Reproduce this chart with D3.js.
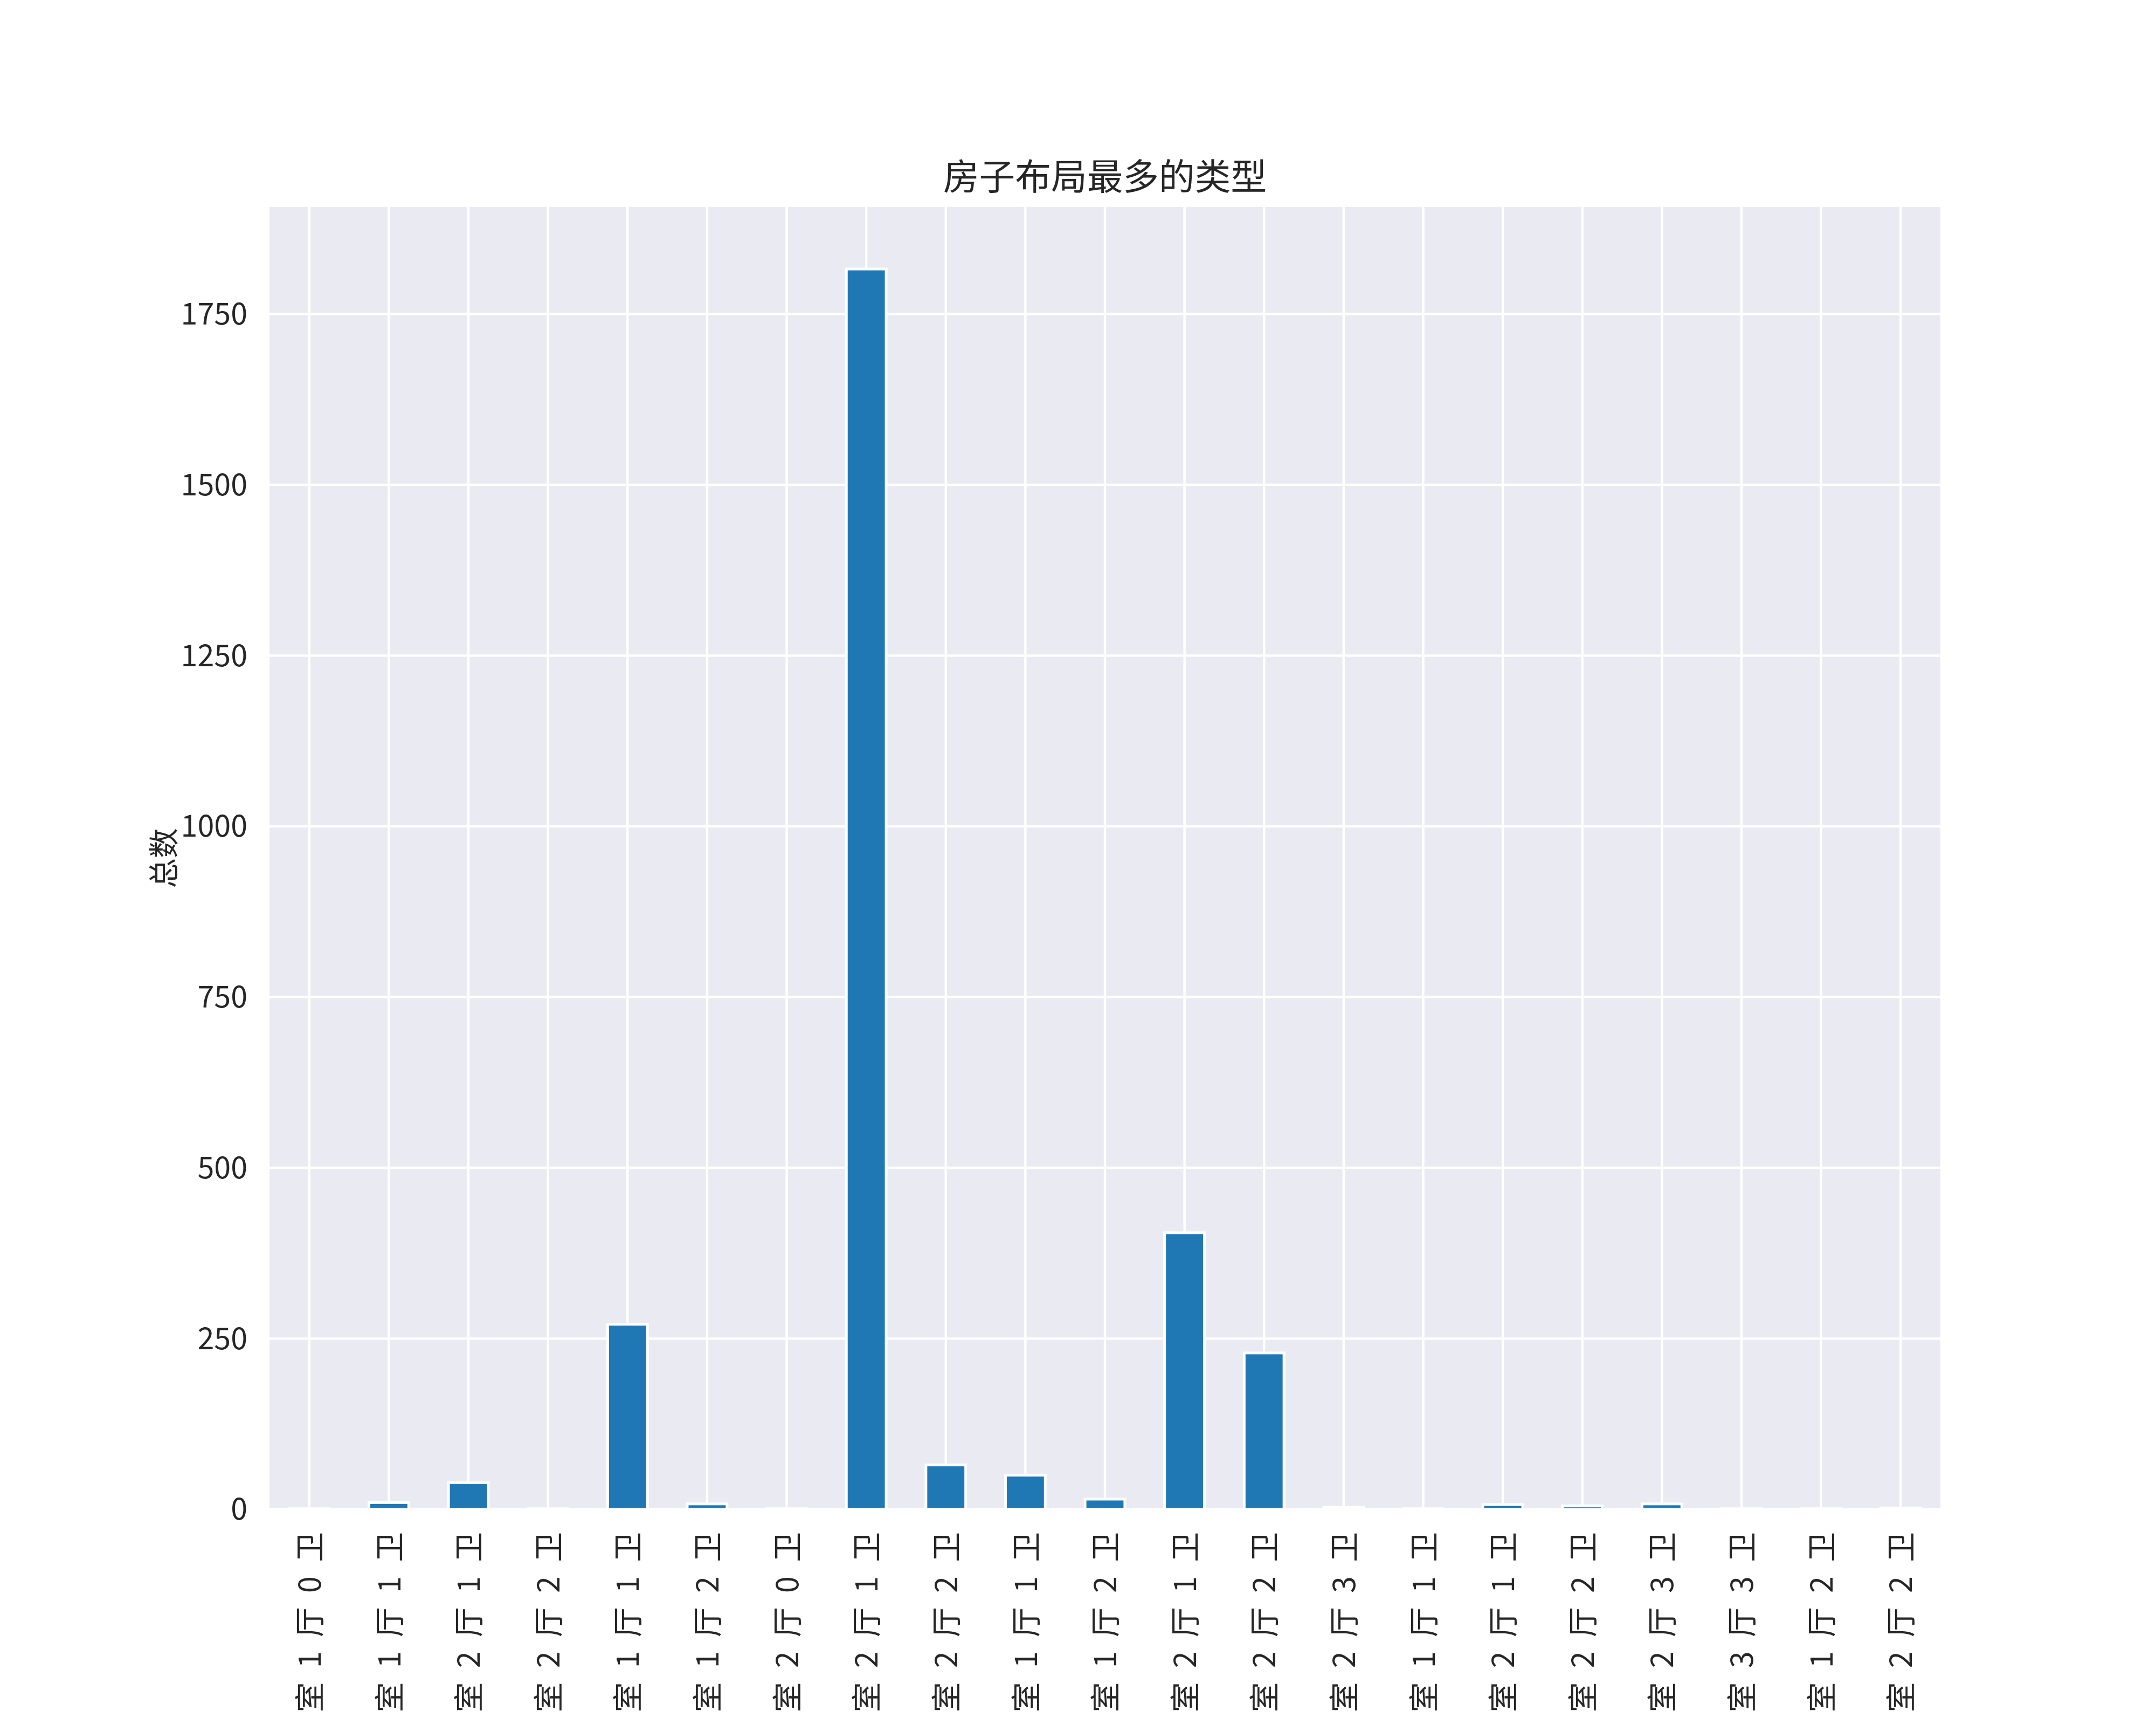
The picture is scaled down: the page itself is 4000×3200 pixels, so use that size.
<!DOCTYPE html>
<html>
<head>
<meta charset="utf-8">
<script src="https://cdn.jsdelivr.net/npm/d3@7"></script>
<style>
  html, body { margin: 0; padding: 0; background: #fff; }
  svg { display: block; }
  text { font-family: "Noto Sans CJK SC", "DejaVu Sans", sans-serif; fill: #262626; }
</style>
</head>
<body>
<svg id="chart"></svg>
<script>
// room layouts (x categories) and how many listings have each one
const layouts = [
  "1 室 1 厅 0 卫", "1 室 1 厅 1 卫", "1 室 2 厅 1 卫", "1 室 2 厅 2 卫",
  "2 室 1 厅 1 卫", "2 室 1 厅 2 卫", "2 室 2 厅 0 卫", "2 室 2 厅 1 卫", "2 室 2 厅 2 卫",
  "3 室 1 厅 1 卫", "3 室 1 厅 2 卫", "3 室 2 厅 1 卫", "3 室 2 厅 2 卫", "3 室 2 厅 3 卫",
  "4 室 1 厅 1 卫", "4 室 2 厅 1 卫", "4 室 2 厅 2 卫", "4 室 2 厅 3 卫", "4 室 3 厅 3 卫",
  "5 室 1 厅 2 卫", "5 室 2 厅 2 卫"
];
const counts = [1, 10, 39, 1, 271, 8, 1, 1816, 65, 50, 15, 405, 229, 3, 1, 7, 5, 8, 1, 1, 2];
const yTicks = [0, 250, 500, 750, 1000, 1250, 1500, 1750];

const titleText = "房子布局最多的类型";
const yLabelText = "总数";

const W = 4000, H = 3200;
const M = { left: 500, right: 3600, top: 384, bottom: 2800 };
const BAR = "#1f77b4", BG = "#eaeaf2";
const FS = 55.6;

const svg = d3.select("#chart").attr("width", W).attr("height", H);
svg.append("rect").attr("width", W).attr("height", H).attr("fill", "#fff");

const x = d3.scaleBand()
  .domain(layouts)
  .range([M.left, M.right])
  .paddingInner(0.5)
  .paddingOuter(0.25);

const y = d3.scaleLinear()
  .domain([0, d3.max(counts) * 1.05])
  .range([M.bottom, M.top]);

// plot background
svg.append("rect")
  .attr("x", M.left).attr("y", M.top)
  .attr("width", M.right - M.left).attr("height", M.bottom - M.top)
  .attr("fill", BG);

// grid, drawn below the bars
const grid = svg.append("g").attr("stroke", "#fff").attr("stroke-width", 4.4);
grid.selectAll(".gx")
  .data(layouts)
  .join("line")
  .attr("class", "gx")
  .attr("x1", d => x(d) + x.bandwidth() / 2).attr("x2", d => x(d) + x.bandwidth() / 2)
  .attr("y1", M.top).attr("y2", M.bottom);
grid.selectAll(".gy")
  .data(yTicks)
  .join("line")
  .attr("class", "gy")
  .attr("x1", M.left).attr("x2", M.right)
  .attr("y1", d => y(d)).attr("y2", d => y(d));

// bars
svg.append("g").selectAll("rect")
  .data(layouts.map((k, i) => ({ k, v: counts[i] })))
  .join("rect")
  .attr("x", d => x(d.k))
  .attr("width", x.bandwidth())
  .attr("y", d => y(d.v))
  .attr("height", d => y(0) - y(d.v))
  .attr("fill", BAR)
  .attr("stroke", "#fff")
  .attr("stroke-width", 5);

// y axis labels
const yAxis = svg.append("g")
  .attr("transform", `translate(${M.left},0)`)
  .call(d3.axisLeft(y).tickValues(yTicks).tickFormat(d3.format("d")).tickSize(0).tickPadding(41));
yAxis.select(".domain").remove();
yAxis.selectAll("text")
  .attr("font-size", FS)
  .attr("font-family", "\"Noto Sans CJK SC\", sans-serif")
  .attr("fill", "#262626")
  .attr("dy", "0.34em");

// x tick labels, rotated so the text reads upwards (cut at the bottom edge as in the source)
svg.append("g").selectAll("text")
  .data(layouts)
  .join("text")
  .attr("transform", d => `translate(${x(d) + x.bandwidth() / 2 + 0.38 * FS},2842) rotate(-90)`)
  .attr("text-anchor", "end")
  .attr("font-size", FS)
  .style("word-spacing", "14px")
  .text(d => d);

// y label
svg.append("text")
  .attr("transform", `translate(${303 + 0.38 * FS},${(M.top + M.bottom) / 2}) rotate(-90)`)
  .attr("text-anchor", "middle")
  .attr("font-size", FS)
  .text(yLabelText);

// title
svg.append("text")
  .attr("x", (M.left + M.right) / 2)
  .attr("y", 352)
  .attr("text-anchor", "middle")
  .attr("font-size", 66.7)
  .text(titleText);
</script>
</body>
</html>
